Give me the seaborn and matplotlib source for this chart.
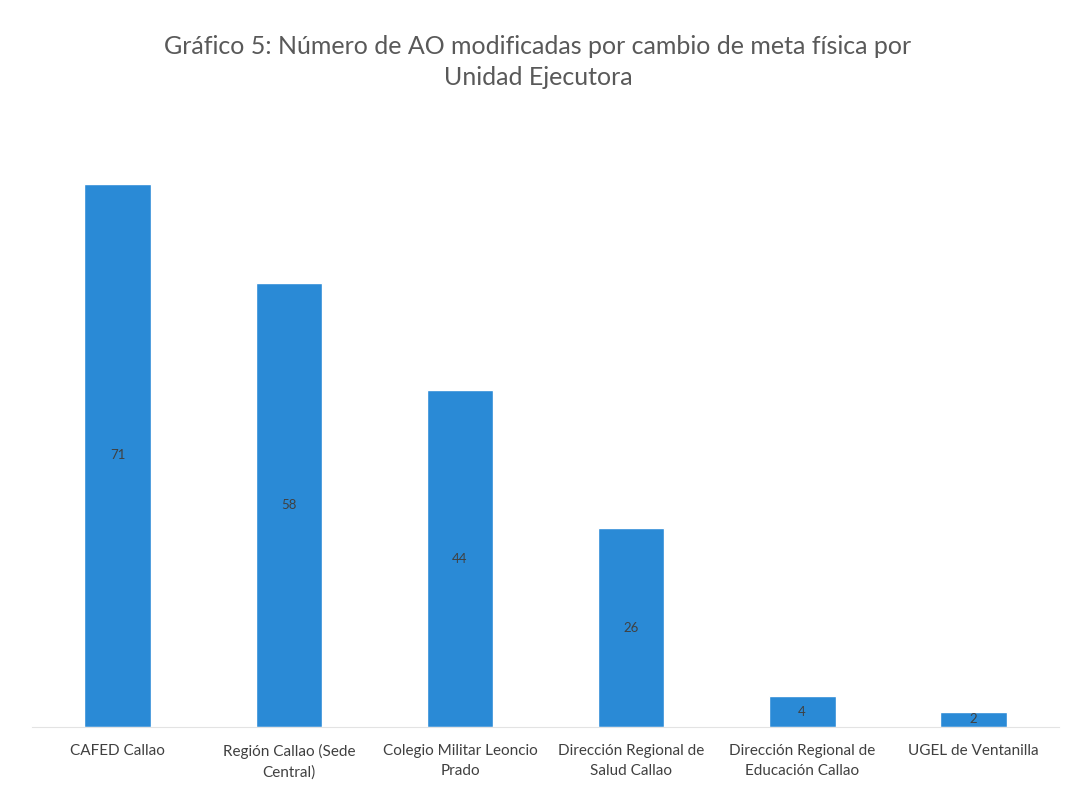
import pandas as pd
import numpy as np
import matplotlib.pyplot as plt
import seaborn as sns

# datos del gráfico
unidades = ['CAFED Callao', 'Región Callao (Sede\nCentral)', 'Colegio Militar Leoncio\nPrado',
            'Dirección Regional de\nSalud Callao', 'Dirección Regional de\nEducación Callao',
            'UGEL de Ventanilla']
num_ao = [71, 58, 44, 26, 4, 2]

df = pd.DataFrame({'unidad': unidades, 'ao': num_ao})

sns.set_style('white')
plt.rcParams['font.family'] = ['Lato', 'DejaVu Sans']

fig = plt.figure(figsize=(10.76, 7.95), dpi=100)
ax = fig.add_axes([0.030, 0.0855, 0.954, 0.77])

sns.barplot(data=df, x='unidad', y='ao', color='#2a8ad6', width=0.39, saturation=1, ax=ax)

# etiquetas en el centro de cada barra
for i, v in enumerate(num_ao):
    ax.text(i, v / 2, str(v), ha='center', va='center', fontsize=9.5, color='#404040')

ax.set_ylim(0, 80)
ax.set_xlim(-0.5, len(unidades) - 0.5)
ax.set_xlabel('')
ax.set_ylabel('')
ax.set_yticks([])
ax.tick_params(axis='x', length=0, labelsize=11, labelcolor='#404040', pad=12)
for lbl in ax.get_xticklabels():
    lbl.set_linespacing(1.6)
for s in ['top', 'right', 'left']:
    ax.spines[s].set_visible(False)
ax.spines['bottom'].set_color('#e3e3e3')

fig.text(0.5, 0.922, 'Gráfico 5: Número de AO modificadas por cambio de meta física por\nUnidad Ejecutora',
         ha='center', va='center', fontsize=18, color='#595959', linespacing=1.45)

plt.savefig('out.png', dpi=100)
plt.close()
